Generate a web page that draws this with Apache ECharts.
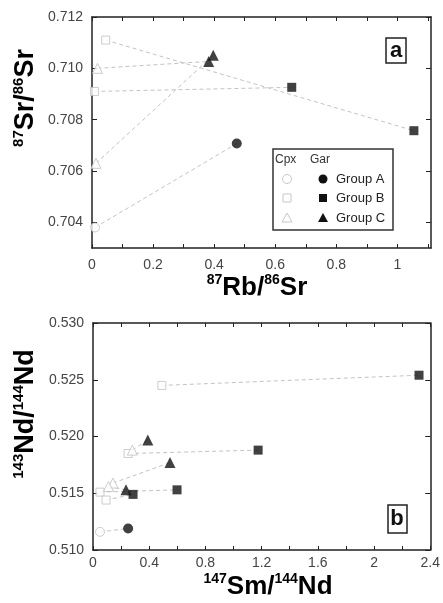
<!DOCTYPE html>
<html>
<head>
<meta charset="utf-8">
<script src="https://cdn.jsdelivr.net/npm/echarts@6/dist/echarts.min.js"></script>
<style>
html,body{margin:0;padding:0;background:#fff;}
#c{width:443px;height:603px;}
</style>
</head>
<body>
<div id="c"></div>
<script>
// ---------- Panel a: 87Rb/86Sr vs 87Sr/86Sr (Cpx -> Gar tie lines) ----------
const aGroups = ['Group A', 'Group B', 'Group B', 'Group C', 'Group C'];
const aCpxRb  = [0.010, 0.045, 0.008, 0.018, 0.013];
const aCpxSr  = [0.7038, 0.7111, 0.7091, 0.7100, 0.7063];
const aGarRb  = [0.474, 1.054, 0.654, 0.382, 0.397];
const aGarSr  = [0.70707, 0.70757, 0.70926, 0.71027, 0.71051];
const aXLabels = [0, 0.2, 0.4, 0.6, 0.8, 1];
const aYLabels = [0.704, 0.706, 0.708, 0.710, 0.712];

// ---------- Panel b: 147Sm/144Nd vs 143Nd/144Nd ----------
const bGroups = ['Group A', 'Group B', 'Group B', 'Group B', 'Group B', 'Group C', 'Group C', 'Group C'];
const bCpxSm  = [0.05, 0.49, 0.25, 0.05, 0.093, 0.28, 0.142, 0.11];
const bCpxNd  = [0.5116, 0.5245, 0.5185, 0.5151, 0.5144, 0.5188, 0.5159, 0.5156];
const bGarSm  = [0.25, 2.32, 1.175, 0.598, 0.285, 0.39, 0.548, 0.235];
const bGarNd  = [0.5119, 0.5254, 0.5188, 0.5153, 0.5149, 0.5197, 0.5177, 0.5153];
const bXLabels = [0, 0.4, 0.8, 1.2, 1.6, 2, 2.4];
const bYLabels = [0.510, 0.515, 0.520, 0.525, 0.530];

const groupNames = ['Group A', 'Group B', 'Group C'];
const shapes = { 'Group A': 'circle', 'Group B': 'rect', 'Group C': 'triangle' };
const sizes  = { 'Group A': 10, 'Group B': 9, 'Group C': 11 };
const AX = '#222';
const LABEL_FONT = 'Liberation Sans, Arial, sans-serif';

function baseAxis(extra) {
  return Object.assign({
    type: 'value',
    axisLine: { show: true, onZero: false, lineStyle: { color: AX, width: 1.5 } },
    splitLine: { show: false },
    axisTick: { show: true, inside: true, length: 4, lineStyle: { color: AX, width: 1 } },
    axisLabel: { show: false }
  }, extra);
}

function range(a, b, step) { const r = []; for (let v = a; v <= b + 1e-9; v += step) r.push(+v.toFixed(4)); return r; }

const labelStyle = { show: true, color: '#444', fontSize: 14, fontFamily: LABEL_FONT };

const xAxis = [
  baseAxis({ gridIndex: 0, position: 'bottom', min: 0, max: 1.11, interval: 0.1,
    axisTick: { show: true, inside: true, length: 4, lineStyle: { color: AX }, customValues: range(0, 1.1, 0.1) },
    axisLabel: Object.assign({}, labelStyle, { margin: 10, customValues: aXLabels, formatter: v => String(+v.toFixed(1)) }) }),
  baseAxis({ gridIndex: 0, position: 'top', min: 0, max: 1.11, interval: 0.1,
    axisTick: { show: true, inside: true, length: 4, lineStyle: { color: AX }, customValues: range(0, 1.1, 0.1) } }),
  baseAxis({ gridIndex: 1, position: 'bottom', min: 0, max: 2.4, interval: 0.2,
    axisTick: { show: true, inside: true, length: 4, lineStyle: { color: AX }, customValues: range(0, 2.4, 0.2) },
    axisLabel: Object.assign({}, labelStyle, { margin: 6, customValues: bXLabels, formatter: v => String(+v.toFixed(1)) }) }),
  baseAxis({ gridIndex: 1, position: 'top', min: 0, max: 2.4, interval: 0.2,
    axisTick: { show: true, inside: true, length: 4, lineStyle: { color: AX }, customValues: range(0, 2.4, 0.2) } })
];

const yAxis = [
  baseAxis({ gridIndex: 0, position: 'left', min: 0.703, max: 0.712, interval: 0.001,
    axisTick: { show: true, inside: true, length: 5, lineStyle: { color: AX }, customValues: aYLabels },
    axisLabel: Object.assign({}, labelStyle, { margin: 9, customValues: aYLabels,
      formatter: v => (Math.round(v * 1000) % 2 === 0 ? v.toFixed(3) : '') }) }),
  baseAxis({ gridIndex: 0, position: 'right', min: 0.703, max: 0.712, interval: 0.001,
    axisTick: { show: true, inside: true, length: 5, lineStyle: { color: AX }, customValues: aYLabels } }),
  baseAxis({ gridIndex: 1, position: 'left', min: 0.510, max: 0.530, interval: 0.005,
    axisTick: { show: true, inside: true, length: 5, lineStyle: { color: AX } },
    axisLabel: Object.assign({}, labelStyle, { margin: 9, formatter: v => v.toFixed(3) }) }),
  baseAxis({ gridIndex: 1, position: 'right', min: 0.510, max: 0.530, interval: 0.005,
    axisTick: { show: true, inside: true, length: 5, lineStyle: { color: AX } } })
];

function panelSeries(xi, yi, groups, cx, cy, gx, gy) {
  const out = [];
  out.push({
    type: 'lines', coordinateSystem: 'cartesian2d', xAxisIndex: xi, yAxisIndex: yi,
    silent: true, z: 1,
    lineStyle: { color: '#b4b4b4', width: 1, type: [4, 3], opacity: 0.8 },
    data: groups.map((g, i) => ({ coords: [[cx[i], cy[i]], [gx[i], gy[i]]] }))
  });
  groupNames.forEach(g => {
    const idx = groups.map((n, i) => n === g ? i : -1).filter(i => i >= 0);
    if (!idx.length) return;
    out.push({
      type: 'scatter', name: 'Cpx ' + g, xAxisIndex: xi, yAxisIndex: yi, z: 2,
      symbol: shapes[g], symbolSize: sizes[g] - 1,
      itemStyle: { color: '#ffffff', borderColor: '#c0c0c0', borderWidth: 1 },
      data: idx.map(i => [cx[i], cy[i]])
    });
    out.push({
      type: 'scatter', name: 'Gar ' + g, xAxisIndex: xi, yAxisIndex: yi, z: 3,
      symbol: shapes[g], symbolSize: sizes[g],
      itemStyle: { color: '#111111' },
      data: idx.map(i => [gx[i], gy[i]])
    });
  });
  return out;
}

const series = [].concat(
  panelSeries(0, 0, aGroups, aCpxRb, aCpxSr, aGarRb, aGarSr),
  panelSeries(2, 2, bGroups, bCpxSm, bCpxNd, bGarSm, bGarNd)
);

function makeRich(m, s) {
  return {
    m: { fontSize: m, fontWeight: 'bold', color: '#111', fontFamily: LABEL_FONT, lineHeight: m + 3 },
    s: { fontSize: s, fontWeight: 'bold', color: '#111', fontFamily: LABEL_FONT, verticalAlign: 'top', lineHeight: m + 3 }
  };
}
function titleText(x, y, rich, rot, m, s) {
  return { type: 'text', x: x, y: y, rotation: rot || 0, silent: true,
    style: { text: rich, rich: makeRich(m, s), align: 'center', verticalAlign: 'middle' } };
}

const legendX = 273, legendY = 149;
const legendItems = [];
legendItems.push({ type: 'rect', shape: { x: legendX, y: legendY, width: 120, height: 81 },
  style: { fill: '#fff', stroke: '#333', lineWidth: 1.5 } });
legendItems.push({ type: 'text', x: 275, y: 160, style: { text: 'Cpx', fontSize: 12, fill: '#333', fontFamily: LABEL_FONT, verticalAlign: 'middle' } });
legendItems.push({ type: 'text', x: 310, y: 160, style: { text: 'Gar', fontSize: 12, fill: '#333', fontFamily: LABEL_FONT, verticalAlign: 'middle' } });
const rowsY = [179, 198, 218];
groupNames.forEach((g, k) => {
  const yy = rowsY[k];
  const mk = (cx, fill, stroke) => {
    if (g === 'Group A') return { type: 'circle', shape: { cx: cx, cy: yy, r: 4.5 }, style: { fill: fill, stroke: stroke } };
    if (g === 'Group B') return { type: 'rect', shape: { x: cx - 4, y: yy - 4, width: 8, height: 8 }, style: { fill: fill, stroke: stroke } };
    return { type: 'polygon', shape: { points: [[cx, yy - 5], [cx - 5, yy + 4], [cx + 5, yy + 4]] }, style: { fill: fill, stroke: stroke } };
  };
  legendItems.push(mk(287, '#fff', '#c8c8c8'));
  legendItems.push(mk(323, '#111', null));
  legendItems.push({ type: 'text', x: 336, y: yy, style: { text: g, fontSize: 13, fill: '#222', fontFamily: LABEL_FONT, verticalAlign: 'middle' } });
});

const graphic = [
  titleText(26, 98, '{s|87}{m|Sr/}{s|86}{m|Sr}', Math.PI / 2, 27, 15),
  titleText(257, 288, '{s|87}{m|Rb/}{s|86}{m|Sr}', 0, 26, 14),
  titleText(26, 414, '{s|143}{m|Nd/}{s|144}{m|Nd}', Math.PI / 2, 27, 15),
  titleText(268, 587, '{s|147}{m|Sm/}{s|144}{m|Nd}', 0, 26, 14),
  { type: 'rect', shape: { x: 386, y: 38, width: 20, height: 25 }, style: { fill: '#fff', stroke: '#222', lineWidth: 1.5 } },
  { type: 'text', x: 396, y: 51, style: { text: 'a', fontSize: 22, fontWeight: 'bold', fill: '#111', fontFamily: LABEL_FONT, align: 'center', verticalAlign: 'middle' } },
  { type: 'rect', shape: { x: 388, y: 505, width: 19, height: 28 }, style: { fill: '#fff', stroke: '#222', lineWidth: 1.5 } },
  { type: 'text', x: 397, y: 519, style: { text: 'b', fontSize: 22, fontWeight: 'bold', fill: '#111', fontFamily: LABEL_FONT, align: 'center', verticalAlign: 'middle' } }
].concat(legendItems);

const chart = echarts.init(document.getElementById('c'), null, { renderer: 'canvas' });
chart.setOption({
  animation: false,
  backgroundColor: '#ffffff',
  grid: [
    { left: 92, top: 17, width: 339, height: 231 },
    { left: 93, top: 323, width: 338, height: 227 }
  ],
  xAxis: xAxis,
  yAxis: yAxis,
  series: series,
  graphic: graphic
});
</script>
</body>
</html>
